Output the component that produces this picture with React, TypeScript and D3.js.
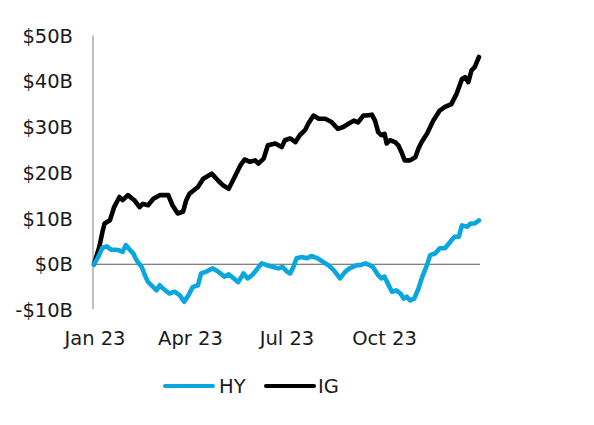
import React from "react";
import * as d3 from "d3";

const igDays = [0,5,8,10,15,19,24,27,32,38,43,46,51,56,62,70,74,79,84,87,90,98,103,111,117,122,127,131,138,142,147,152,155,160,164,171,177,180,185,190,194,199,202,207,212,218,224,230,235,240,245,249,254,257,262,265,268,271,274,276,279,284,287,290,293,298,303,306,309,314,320,326,331,337,342,347,350,353,356,359,363];
const igValues = [0,3.8,7.1,8.9,9.6,12.5,14.7,14.0,15.1,14.0,12.5,13.2,12.9,14.3,15.1,15.1,12.9,11.1,11.5,14.0,15.4,16.9,18.7,19.8,18.3,17.2,16.5,18.3,21.6,22.9,22.4,22.7,22.0,23.1,26.0,26.4,25.6,27.1,27.5,26.7,28.2,29.3,30.7,32.5,31.8,31.8,31.1,29.6,30.0,30.7,31.4,31.0,32.5,32.5,32.7,31.4,28.9,28.2,28.5,26.4,27.1,26.7,26.0,24.5,22.7,22.7,23.4,25.3,26.7,28.5,31.4,33.6,34.4,35.0,37.3,40.5,40.9,39.8,42.4,43.1,45.3];

const hyDays = [0,4,8,12,16,23,27,30,34,37,40,45,48,51,56,59,62,65,71,76,81,85,89,93,98,101,106,112,117,123,127,136,141,145,149,153,158,163,169,174,178,182,185,188,191,196,201,205,211,216,221,226,232,237,241,248,251,256,260,263,268,271,274,277,281,285,289,292,295,298,302,306,309,314,317,322,326,331,336,340,344,347,352,355,359,363];
const hyValues = [0,1.6,3.6,3.9,3.2,3.1,2.7,4.2,3.1,2.4,0.9,-0.6,-2.4,-3.9,-5.0,-5.7,-4.6,-5.3,-6.4,-6.0,-6.8,-8.2,-6.8,-5.0,-4.6,-2.0,-1.6,-0.9,-1.6,-2.7,-2.2,-3.9,-2.0,-3.1,-2.4,-1.3,0.2,-0.2,-0.6,-0.9,-0.6,-1.6,-2.0,-0.6,1.3,1.6,1.3,1.8,1.3,0.5,-0.2,-1.3,-3.1,-1.6,-0.9,-0.2,-0.2,0.2,-0.2,-0.6,-2.4,-3.1,-2.7,-4.2,-6.0,-5.7,-6.4,-7.5,-7.1,-7.9,-7.5,-5.3,-3.1,-0.2,2.0,2.4,3.5,3.5,4.9,6.0,6.0,8.5,8.2,8.9,8.9,9.6];

const yTicks = [-10, 0, 10, 20, 30, 40, 50];
const xTickDates = ["2023-01-01", "2023-04-01", "2023-07-01", "2023-10-01"];
const xTickLabels = ["Jan 23", "Apr 23", "Jul 23", "Oct 23"];
const seriesNames = ["HY", "IG"];
const seriesColors = ["#0aa6df", "#000000"];

const W = 594, H = 425;
const FONT = "'DejaVu Sans', sans-serif";
const start = new Date(2023, 0, 1);

export default function App() {
  const x = d3.scaleTime().domain([start, new Date(2023, 11, 31)]).range([94, 480]);
  const y = d3.scaleLinear().domain([-10, 50]).range([310, 35.5]);
  const toDate = (d: number) => d3.timeDay.offset(start, d);
  const parse = d3.timeParse("%Y-%m-%d");

  const line = d3.line<[number, number]>()
    .x(d => x(toDate(d[0])))
    .y(d => y(d[1]))
    .curve(d3.curveLinear);

  const hy = hyDays.map((d, i) => [d, hyValues[i]] as [number, number]);
  const ig = igDays.map((d, i) => [d, igValues[i]] as [number, number]);

  return (
    <svg width={W} height={H} style={{ position: "absolute", left: 0, top: 0, background: "#fff" }}>
      <rect width={W} height={H} fill="#fff" />
      {/* y axis */}
      <line x1={93} x2={93} y1={y(50)} y2={309} stroke="#7f7f7f" strokeWidth={1} />
      {yTicks.map(t => (
        <text key={t} x={73} y={y(t)} dy="0.36em" textAnchor="end" fontFamily={FONT} fontSize={19.5} fill="#1a1a1a">
          {t < 0 ? `-$${Math.abs(t)}B` : `$${t}B`}
        </text>
      ))}
      {/* zero line */}
      <line x1={93} x2={480} y1={y(0)} y2={y(0)} stroke="#595959" strokeWidth={1} />
      {/* x labels */}
      {xTickDates.map((s, i) => (
        <text key={s} x={x(parse(s) as Date) + 1} y={345} textAnchor="middle" fontFamily={FONT} fontSize={19.5} fill="#1a1a1a">
          {xTickLabels[i]}
        </text>
      ))}
      {/* lines */}
      <path d={line(ig) || ""} fill="none" stroke={seriesColors[1]} strokeWidth={4.6} strokeLinejoin="round" strokeLinecap="round" />
      <path d={line(hy) || ""} fill="none" stroke={seriesColors[0]} strokeWidth={4.6} strokeLinejoin="round" strokeLinecap="round" />
      {/* legend */}
      <line x1={165} x2={213} y1={386} y2={386} stroke={seriesColors[0]} strokeWidth={4} strokeLinecap="round" />
      <text x={219} y={393} fontFamily={FONT} fontSize={19.5} fill="#1a1a1a">{seriesNames[0]}</text>
      <line x1={266} x2={314} y1={386} y2={386} stroke={seriesColors[1]} strokeWidth={4} strokeLinecap="round" />
      <text x={318} y={393} fontFamily={FONT} fontSize={19.5} fill="#1a1a1a">{seriesNames[1]}</text>
    </svg>
  );
}
